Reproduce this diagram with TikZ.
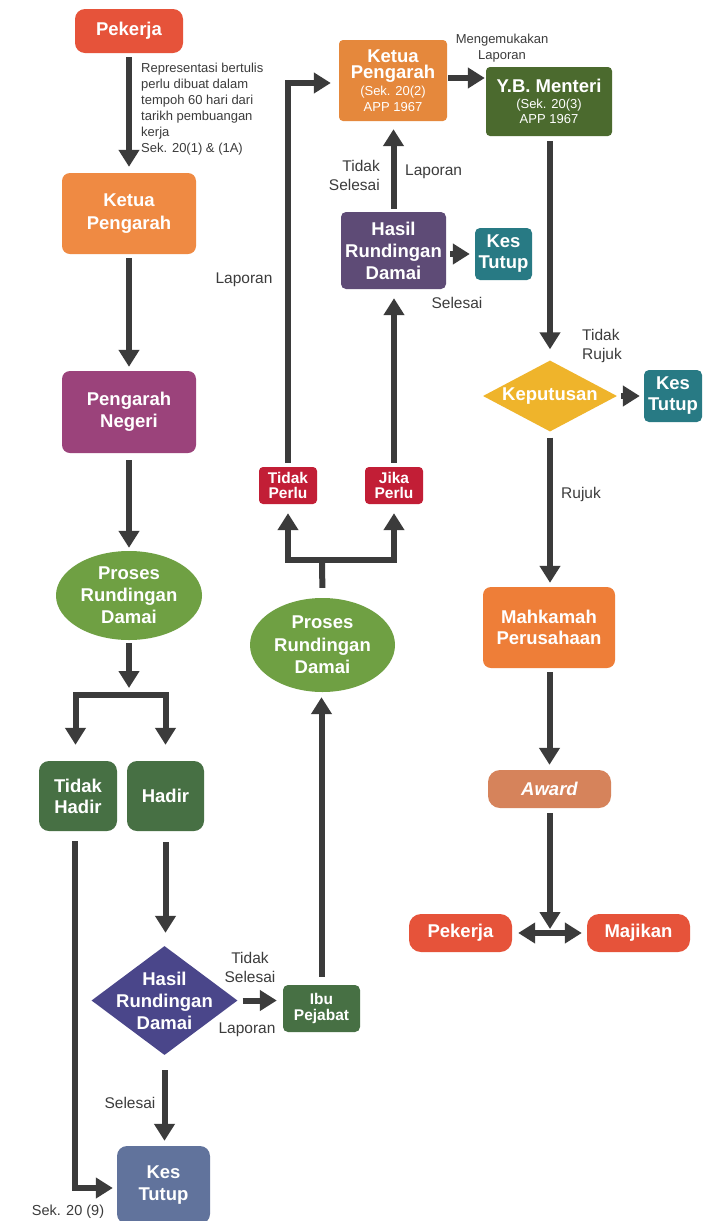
\documentclass[tikz,border=0pt]{standalone}
\usepackage{fontspec}
\setmainfont{Liberation Sans}
\usetikzlibrary{arrows.meta,shapes.geometric,calc}
\definecolor{pekred}{HTML}{E6533A}
\definecolor{kporange}{HTML}{EF8A43}
\definecolor{kptop}{HTML}{E5883C}
\definecolor{pnpurple}{HTML}{9B437B}
\definecolor{ellgreen}{HTML}{6FA043}
\definecolor{dkgreen}{HTML}{477044}
\definecolor{diapurple}{HTML}{4A468A}
\definecolor{tpred}{HTML}{C21E36}
\definecolor{hasilpurple}{HTML}{5E4B76}
\definecolor{tealbox}{HTML}{287A84}
\definecolor{ybgreen}{HTML}{4B6A2E}
\definecolor{kepyellow}{HTML}{EFB42B}
\definecolor{mkorange}{HTML}{EE7E38}
\definecolor{awardc}{HTML}{D6835B}
\definecolor{ktblue}{HTML}{61739C}
\definecolor{arrgray}{HTML}{3B3B3B}
\definecolor{labgray}{HTML}{3C3C3C}
\begin{document}
\begin{tikzpicture}[x=1pt,y=-1pt,
  nb/.style={inner sep=0pt, align=center, text=white, font=\bfseries\fontsize{18.5}{22}\selectfont},
  rb/.style={nb, rectangle, rounded corners=8pt},
  dmd/.style={diamond, inner sep=0pt},
  lab/.style={text=labgray, font=\fontsize{15.5}{18.5}\selectfont, inner sep=0pt, align=center},
  arr/.style={draw=arrgray, line width=6pt, -{Triangle[width=20pt,length=17pt]}},
  darr/.style={draw=arrgray, line width=6pt, {Triangle[width=20pt,length=17pt]}-{Triangle[width=20pt,length=17pt]}},
  ln/.style={draw=arrgray, line width=6pt}]
\fill[white] (0,0) rectangle (715,1221);
\useasboundingbox (0,0) rectangle (715,1221);

% left column
\node[rb, fill=pekred, rounded corners=10pt, minimum width=108pt, minimum height=44pt] (pek1) at (129,31) {Pekerja};
\node[lab, align=left, anchor=north west, font=\fontsize{13}{16}\selectfont] (rep) at (141,62.5)
  {Representasi bertulis\\perlu dibuat dalam\\tempoh 60 hari dari\\tarikh pembuangan\\kerja\\Sek. 20(1) \& (1A)};
\node[rb, fill=kporange, minimum width=134pt, minimum height=81pt, font=\bfseries\fontsize{18.5}{23}\selectfont] (kp1) at (129,213.5) {Ketua\\Pengarah};
\node[rb, fill=pnpurple, minimum width=134pt, minimum height=82pt] (pn) at (129,412) {Pengarah\\Negeri};
\node[nb, ellipse, fill=ellgreen, minimum width=146pt, minimum height=89pt] (ell1) at (129,595.5) {Proses\\Rundingan\\Damai};
\node[rb, fill=dkgreen, rounded corners=10pt, minimum width=78pt, minimum height=70pt, font=\bfseries\fontsize{18.5}{21}\selectfont] (th) at (78,796) {Tidak\\Hadir};
\node[rb, fill=dkgreen, rounded corners=10pt, minimum width=77pt, minimum height=70pt] (hd) at (165.5,796) {Hadir};
\node[dmd, fill=diapurple, minimum width=146pt, minimum height=109pt, label={[nb]center:{Hasil\\Rundingan\\Damai}}] (dia) at (164.5,1000.5) {};
\node[rb, fill=dkgreen, rounded corners=5pt, minimum width=77pt, minimum height=47pt, font=\bfseries\fontsize{15.5}{16}\selectfont] (ibu) at (321.5,1008.5) {Ibu\\Pejabat};
\node[rb, fill=ktblue, rounded corners=10pt, minimum width=93pt, minimum height=78pt] (kt3) at (163.5,1185) {Kes\\Tutup};

% middle column
\node[nb, ellipse, fill=ellgreen, minimum width=145pt, minimum height=94pt, font=\bfseries\fontsize{18.5}{22.5}\selectfont] (ell2) at (322.5,645) {Proses\\Rundingan\\Damai};
\node[rb, fill=tpred, rounded corners=4pt, minimum width=58pt, minimum height=37pt, font=\bfseries\fontsize{15.5}{15}\selectfont] (tp) at (288,485.5) {Tidak\\Perlu};
\node[rb, fill=tpred, rounded corners=4pt, minimum width=58pt, minimum height=37pt, font=\bfseries\fontsize{15.5}{15}\selectfont] (jp) at (394,485.5) {Jika\\Perlu};
\node[rb, fill=hasilpurple, rounded corners=5pt, minimum width=105pt, minimum height=77pt] (hasil) at (393.5,250.5) {Hasil\\Rundingan\\Damai};
\node[rb, fill=tealbox, rounded corners=5pt, minimum width=57pt, minimum height=52pt, font=\bfseries\fontsize{18.5}{21}\selectfont] (kt1) at (503.5,254) {Kes\\Tutup};
\node[rb, fill=kptop, rounded corners=4pt, minimum width=108pt, minimum height=81pt, font=\bfseries\fontsize{18.5}{16.5}\selectfont] (kp2) at (393,80.5)
  {Ketua\\Pengarah\\{\mdseries\fontsize{13}{16.5}\selectfont (Sek. 20(2)}\\{\mdseries\fontsize{13}{16.5}\selectfont APP 1967}};

% right column
\node[rb, fill=ybgreen, rounded corners=4pt, minimum width=126pt, minimum height=69pt, font=\bfseries\fontsize{18.5}{15.5}\selectfont] (yb) at (549,101.5)
  {Y.B. Menteri\\{\mdseries\fontsize{13}{15.5}\selectfont (Sek. 20(3)}\\{\mdseries\fontsize{13}{15.5}\selectfont APP 1967}};
\node[dmd, fill=kepyellow, minimum width=134pt, minimum height=71pt, label={[nb]center:Keputusan}] (kep) at (550,396) {};
\node[rb, fill=tealbox, rounded corners=5pt, minimum width=58pt, minimum height=52pt, font=\bfseries\fontsize{18.5}{21}\selectfont] (kt2) at (673,396) {Kes\\Tutup};
\node[rb, fill=mkorange, minimum width=132pt, minimum height=81pt, font=\bfseries\fontsize{18.5}{21}\selectfont] (mk) at (549,627.5) {Mahkamah\\Perusahaan};
\node[rb, fill=awardc, rounded corners=12pt, minimum width=123pt, minimum height=38pt] (aw) at (549.5,789) {\itshape Award};
\node[rb, fill=pekred, rounded corners=12pt, minimum width=103pt, minimum height=38pt] (pek2) at (460.5,933) {Pekerja};
\node[rb, fill=pekred, rounded corners=12pt, minimum width=103pt, minimum height=38pt] (maj) at (638.5,933) {Majikan};

% labels
\node[lab] (l1) at (244,280) {Laporan};
\node[lab, align=right, anchor=east] (l2) at (380,175.5) {Tidak\\Selesai};
\node[lab, anchor=west] (l3) at (405,172) {Laporan};
\node[lab] (l4) at (457,303) {Selesai};
\node[lab, font=\fontsize{13}{16}\selectfont] (l5) at (502,48) {Mengemukakan\\Laporan};
\node[lab, align=left, anchor=west] (l6) at (582,346) {Tidak\\Rujuk};
\node[lab] (l7) at (581,494) {Rujuk};
\node[lab] (l8) at (250,967.5) {Tidak\\Selesai};
\node[lab] (l9) at (247,1030) {Laporan};
\node[lab] (l10) at (130,1103) {Selesai};
\node[lab, font=\fontsize{14.5}{17}\selectfont] (l11) at (68,1212) {Sek. 20 (9)};

% coordinates
\coordinate (s1) at (129,688);
\coordinate (b1) at (129,694.5);
\coordinate (b2) at (322,560);
\coordinate (kpy) at ([yshift=2.5pt]kp2.east);
\coordinate (dd) at (550,929);

% connectors left
\draw[arr, shorten <=4pt, shorten >=6pt] (pek1) -- (kp1);
\draw[arr, shorten <=4pt, shorten >=4pt] (kp1) -- (pn);
\draw[arr, shorten <=7pt, shorten >=3pt] (pn) -- (ell1);
\draw[arr, shorten <=3pt] (ell1) -- (s1);
\draw[darr, shorten <=16pt, shorten >=16pt] ([xshift=-2.5pt]th.north) |- (b1) -| (hd.north);
\draw[arr, shorten <=10pt, shorten >=4pt] ([xshift=-3pt]th.south) |- ([yshift=-3pt]kt3.west);
\draw[arr, shorten <=11pt, shorten >=13pt] (hd.south) -- (hd.south |- dia.north);
\draw[arr, shorten <=5pt, shorten >=6pt] (dia.east) -- (dia.east -| ibu.west);
\draw[arr, shorten <=15pt, shorten >=5pt] (dia.south) -- (dia.south |- kt3.north);

% connectors middle
\draw[arr, shorten <=8pt, shorten >=5pt] (ibu.north) -- (ibu.north |- ell2.south);
\draw[ln, shorten <=10pt] (ell2.north) -- (b2);
\draw[darr, shorten <=9pt, shorten >=9pt] (tp.south) |- (b2) -| (jp.south);
\draw[arr, shorten <=4pt, shorten >=8pt] (tp.north) |- ([yshift=-2.5pt]kp2.west);
\draw[arr, shorten <=4pt, shorten >=9pt] (jp.north) -- (jp.north |- hasil.south);
\draw[arr, shorten <=4pt, shorten >=5pt] (hasil.east |- kt1.west) -- (kt1.west);
\draw[arr, shorten <=3pt, shorten >=8pt] (hasil.north) -- (hasil.north |- kp2.south);
\draw[arr, shorten <=1pt, shorten >=1pt] (kpy) -- (kpy -| yb.west);

% connectors right
\draw[arr, shorten <=5pt, shorten >=11pt] (kep.north |- yb.south) -- (kep.north);
\draw[arr, shorten <=4pt, shorten >=4pt] (kep.east) -- (kt2.west);
\draw[arr, shorten <=6pt, shorten >=4pt] (kep.south) -- (kep.south |- mk.north);
\draw[arr, shorten <=4pt, shorten >=5pt] (mk.south -| aw.south) -- (aw.north);
\draw[arr, shorten <=5pt] (aw.south -| dd) -- (dd);
\draw[darr, shorten <=6pt, shorten >=5pt] (pek2.east) -- (maj.west);
\end{tikzpicture}
\end{document}
